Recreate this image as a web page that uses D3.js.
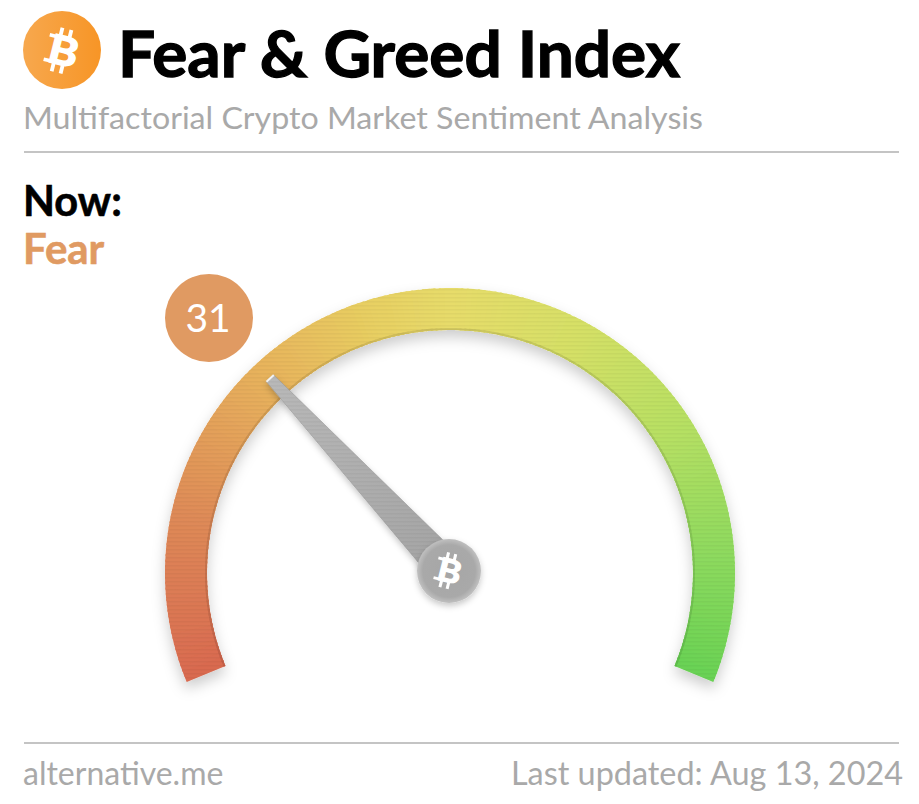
<!DOCTYPE html>
<html>
<head>
<meta charset="utf-8">
<script src="https://cdn.jsdelivr.net/npm/d3@7"></script>
<style>
	html, body { margin: 0; padding: 0; background: #fff; overflow: hidden; }
	text { font-family: Lato, 'Open Sans', sans-serif; }
</style>
</head>
<body>
<svg id="chart"></svg>
<script>
const titleText = 'Fear & Greed Index'
const subtitleText = 'Multifactorial Crypto Market Sentiment Analysis'
const nowLabel = 'Now:'
const currentValue = 31
const currentLabel = 'Fear'
const footerLeft = 'alternative.me'
const footerRight = 'Last updated: Aug 13, 2024'

// colour of the gauge band at a given index value
const stopValues = [0, 15, 31, 42, 50, 62, 75, 88, 100]
const stopColors = ['#d96a50', '#de8a58', '#e8b45c', '#e8cf62', '#e7dc6a', '#d6e066', '#b8e064', '#8eda5e', '#68d254']

const svgWidth = 919
const svgHeight = 804
const cx = 450
const cy = 573
const outerR = 285
const innerR = 243

const svg = d3.select('#chart').attr('width', svgWidth).attr('height', svgHeight)
const defs = svg.append('defs')

const shadow = defs.append('filter').attr('id', 'bandShadow')
	.attr('x', '-10%').attr('y', '-10%').attr('width', '120%').attr('height', '125%')
shadow.append('feDropShadow').attr('dx', 0).attr('dy', 7).attr('stdDeviation', 7)
	.attr('flood-color', '#000').attr('flood-opacity', 0.2)

const smallShadow = defs.append('filter').attr('id', 'hubShadow')
	.attr('x', '-30%').attr('y', '-30%').attr('width', '160%').attr('height', '160%')
smallShadow.append('feDropShadow').attr('dx', 0).attr('dy', 3).attr('stdDeviation', 3)
	.attr('flood-color', '#000').attr('flood-opacity', 0.22)

const logoGrad = defs.append('linearGradient').attr('id', 'logoGrad')
logoGrad.append('stop').attr('offset', '0%').attr('stop-color', '#f7a84e')
logoGrad.append('stop').attr('offset', '100%').attr('stop-color', '#f79526')

const needleGrad = defs.append('linearGradient').attr('id', 'needleGrad')
	.attr('x1', '0%').attr('y1', '0%').attr('x2', '100%').attr('y2', '100%')
needleGrad.append('stop').attr('offset', '0%').attr('stop-color', '#b9b9b9')
needleGrad.append('stop').attr('offset', '100%').attr('stop-color', '#a2a2a2')

const hubGrad = defs.append('radialGradient').attr('id', 'hubGrad')
hubGrad.append('stop').attr('offset', '0%').attr('stop-color', '#a6a6a6')
hubGrad.append('stop').attr('offset', '82%').attr('stop-color', '#a9a9a9')
hubGrad.append('stop').attr('offset', '100%').attr('stop-color', '#c0c0c0')

// faint brushed look on the band and needle
const brushed = defs.append('pattern').attr('id', 'brushed').attr('patternUnits', 'userSpaceOnUse')
	.attr('width', 40).attr('height', 4)
brushed.append('rect').attr('width', 40).attr('height', 1.5).attr('fill', '#000').attr('opacity', 0.035)

// value -> angle around the dial
const angleScale = d3.scaleLinear().domain([0, 100]).range([-112.5, 112.5])
const colorScale = d3.scaleLinear().domain(stopValues).range(stopColors)
const rad = (d) => d * Math.PI / 180

// tilted B with the little ticks above and below it
function bitcoinGlyph(parent, x, y, size, color) {
	const g = parent.append('g').attr('transform', `translate(${x},${y}) rotate(14)`).attr('fill', color)
	const w = size * 0.095
	;[-0.2, 0.03].forEach((dx) => {
		g.append('rect').attr('x', dx * size).attr('y', -0.56 * size).attr('width', w).attr('height', 0.22 * size)
		g.append('rect').attr('x', dx * size).attr('y', 0.34 * size).attr('width', w).attr('height', 0.22 * size)
	})
	g.append('rect').attr('x', -0.42 * size).attr('y', -0.36 * size).attr('width', 0.2 * size).attr('height', 0.09 * size)
	g.append('rect').attr('x', -0.42 * size).attr('y', 0.27 * size).attr('width', 0.2 * size).attr('height', 0.09 * size)
	g.append('text').text('B').attr('text-anchor', 'middle')
		.attr('transform', `translate(${size * 0.02},${size * 0.35}) scale(1.12,1)`)
		.attr('font-size', size).attr('font-weight', 700).attr('fill', color)
		.attr('stroke', color).attr('stroke-width', size * 0.035)
}

// header
svg.append('circle').attr('cx', 62).attr('cy', 50).attr('r', 39).attr('fill', 'url(#logoGrad)')
bitcoinGlyph(svg, 63, 51, 40, '#fff')

svg.append('text').text(titleText).attr('x', 118).attr('y', 77)
	.attr('font-size', 64).attr('font-weight', 700).attr('fill', '#000')
	.attr('stroke', '#000').attr('stroke-width', 1.3)
	.attr('textLength', 562).attr('lengthAdjust', 'spacingAndGlyphs')
svg.append('text').text(subtitleText).attr('x', 23).attr('y', 129)
	.attr('font-size', 31.5).attr('fill', '#a9a9a9')
	.attr('textLength', 680).attr('lengthAdjust', 'spacingAndGlyphs')
svg.append('line').attr('x1', 24).attr('x2', 899).attr('y1', 152).attr('y2', 152)
	.attr('stroke', '#b0b0b0').attr('stroke-width', 1.5)

svg.append('text').text(nowLabel).attr('x', 23).attr('y', 216)
	.attr('font-size', 41.5).attr('font-weight', 700).attr('fill', '#000')
	.attr('stroke', '#000').attr('stroke-width', 0.6)
svg.append('text').text(currentLabel).attr('x', 23).attr('y', 264)
	.attr('font-size', 42).attr('font-weight', 700).attr('fill', '#e09a62')
	.attr('stroke', '#e09a62').attr('stroke-width', 0.6)

// gauge band, built from short arc pieces so the colour runs along it
const arc = d3.arc().innerRadius(innerR).outerRadius(outerR)
const dial = svg.append('g').attr('transform', `translate(${cx},${cy})`)
const band = dial.append('g').attr('filter', 'url(#bandShadow)')
const step = 0.5
const pieceAngles = (v) => ({
	startAngle: rad(angleScale(v)),
	endAngle: rad(angleScale(Math.min(100, v + step + 0.2)))
})
band.selectAll('path.piece').data(d3.range(0, 100, step)).enter()
	.append('path')
	.attr('class', 'piece')
	.attr('d', (v) => arc(pieceAngles(v)))
	.attr('fill', (v) => colorScale(v))

// darker rim along the inner edge of the band
const rim = d3.arc().innerRadius(innerR).outerRadius(innerR + 2)
dial.selectAll('path.rim').data(d3.range(0, 100, step)).enter()
	.append('path')
	.attr('class', 'rim')
	.attr('d', (v) => rim(pieceAngles(v)))
	.attr('fill', (v) => d3.color(colorScale(v)).darker(0.3))

dial.append('path')
	.attr('d', arc({startAngle: rad(angleScale(0)), endAngle: rad(angleScale(100))}))
	.attr('fill', 'url(#brushed)')

// needle
const needleA = rad(angleScale(currentValue))
const tipR = 265
const hubX = -1
const hubY = -2
const dir = [Math.sin(needleA), -Math.cos(needleA)]
const perp = [-dir[1], dir[0]]
const needlePts = [
	[dir[0] * tipR + perp[0] * 5, dir[1] * tipR + perp[1] * 5],
	[dir[0] * tipR - perp[0] * 5, dir[1] * tipR - perp[1] * 5],
	[hubX - perp[0] * 18, hubY - perp[1] * 18],
	[hubX + perp[0] * 18, hubY + perp[1] * 18]
]
const needlePoints = needlePts.map((p) => p.join(',')).join(' ')
dial.append('polygon').attr('points', needlePoints)
	.attr('fill', 'url(#needleGrad)').attr('stroke', '#999').attr('stroke-width', 0.6)
	.attr('filter', 'url(#hubShadow)')
dial.append('polygon').attr('points', needlePoints).attr('fill', 'url(#brushed)')
dial.append('line')
	.attr('x1', needlePts[0][0]).attr('y1', needlePts[0][1])
	.attr('x2', needlePts[1][0]).attr('y2', needlePts[1][1])
	.attr('stroke', '#f2f2f2').attr('stroke-width', 2)

dial.append('circle').attr('cx', hubX).attr('cy', hubY).attr('r', 32)
	.attr('fill', 'url(#hubGrad)').attr('filter', 'url(#hubShadow)')
bitcoinGlyph(dial, hubX, hubY, 32, '#fff')

// value badge
svg.append('circle').attr('cx', 209).attr('cy', 318).attr('r', 44).attr('fill', '#e09a62')
svg.append('text').text(currentValue).attr('x', 208).attr('y', 332)
	.attr('text-anchor', 'middle').attr('font-size', 39).attr('fill', '#fff')

// footer
svg.append('line').attr('x1', 24).attr('x2', 899).attr('y1', 743).attr('y2', 743)
	.attr('stroke', '#b0b0b0').attr('stroke-width', 1.5)
svg.append('text').text(footerLeft).attr('x', 23).attr('y', 785)
	.attr('font-size', 32).attr('fill', '#a9a9a9')
svg.append('text').text(footerRight).attr('x', 903).attr('y', 785)
	.attr('text-anchor', 'end').attr('font-size', 32.4).attr('fill', '#a9a9a9')
</script>
</body>
</html>
